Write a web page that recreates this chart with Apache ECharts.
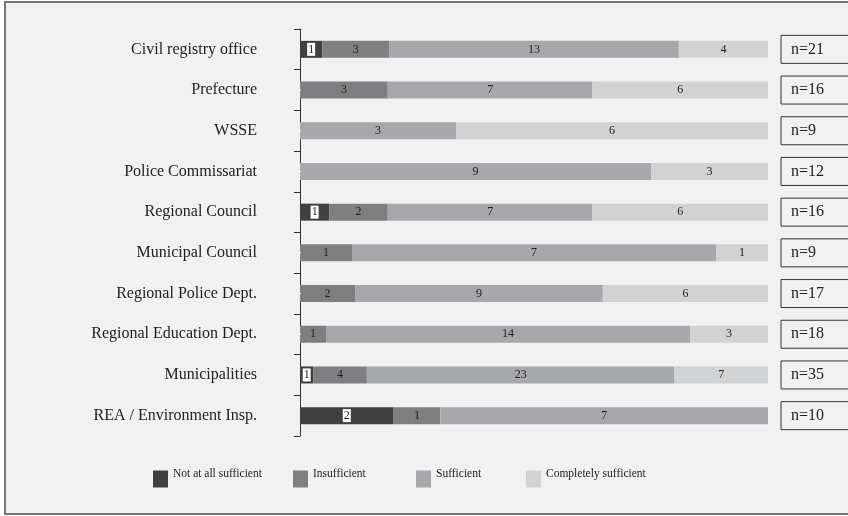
<!DOCTYPE html>
<html>
<head>
<meta charset="utf-8">
<script src="https://cdn.jsdelivr.net/npm/echarts@6/dist/echarts.min.js"></script>
<style>
html,body{margin:0;padding:0;background:#fff;}
#c{width:848px;height:516px;}
</style>
</head>
<body>
<div id="c"></div>
<script>
var categories = ['Civil registry office','Prefecture','WSSE','Police Commissariat','Regional Council','Municipal Council','Regional Police Dept.','Regional Education Dept.','Municipalities','REA / Environment Insp.'];
var seriesNames = ['Not at all sufficient','Insufficient','Sufficient','Completely sufficient'];
var notAtAll     = [1,0,0,0,1,0,0,0,1,2];
var insufficient = [3,3,0,0,2,1,2,1,4,1];
var sufficient   = [13,7,3,9,7,7,9,14,23,7];
var completely   = [4,6,6,3,6,1,6,3,7,0];
var nValues      = [21,16,9,12,16,9,17,18,35,10];

var counts = [notAtAll, insufficient, sufficient, completely];
var colors = ['#404040','#7f7f82','#a7a8ab','#d1d2d3'];
var FONT = 'Liberation Serif';

var chart = echarts.init(document.getElementById('c'));
var series = counts.map(function(arr, si){
  return {
    name: seriesNames[si],
    type: 'bar',
    stack: 'all',
    barWidth: 17,
    itemStyle: {color: colors[si]},
    label: {
      show: true,
      position: 'inside',
      fontFamily: FONT,
      fontSize: 12,
      color: '#222',
      backgroundColor: si === 0 ? '#fff' : 'transparent',
      padding: si === 0 ? [1,1,0,1] : 0,
      formatter: function(p){ var v = arr[p.dataIndex]; return v > 0 ? String(v) : ''; }
    },
    emphasis: {disabled: true},
    data: arr.map(function(v, i){ return v / nValues[i] * 100; })
  };
});

var legendLefts = [148, 288, 411, 521];
var legends = seriesNames.map(function(n, i){
  return {
    data: [n],
    left: legendLefts[i],
    top: 463,
    itemWidth: 15,
    itemHeight: 17,
    itemGap: 4,
    icon: 'rect',
    formatter: '{t|{name}}',
    textStyle: {
      fontFamily: FONT, fontSize: 11.5, color: '#222',
      rich: {t: {fontFamily: FONT, fontSize: 11.5, color: '#222', padding: [0,0,10,0]}}
    },
    selectedMode: false
  };
});

chart.setOption({
  animation: false,
  backgroundColor: 'transparent',
  graphic: [{
    type: 'rect', z: -10,
    shape: {x: 5, y: 2, width: 850, height: 512},
    style: {fill: '#f1f1f1', stroke: '#767676', lineWidth: 2}
  }],
  grid: {left: 300, right: 80, top: 29, bottom: 80, containLabel: false, outerBoundsMode: 'none'},
  legend: legends,
  xAxis: {type: 'value', min: 0, max: 100, show: false},
  yAxis: [{
    type: 'category',
    inverse: true,
    data: categories,
    axisLine: {show: true, lineStyle: {color: '#333', width: 1}},
    axisTick: {show: true, length: 6, lineStyle: {color: '#333'}},
    axisLabel: {fontFamily: FONT, fontSize: 16, color: '#222', margin: 43}
  },{
    type: 'category',
    inverse: true,
    position: 'right',
    data: nValues.map(function(n){ return 'n=' + n; }),
    axisLine: {show: false},
    axisTick: {show: false},
    axisLabel: {
      fontFamily: FONT, fontSize: 16, color: '#222', margin: 13,
      align: 'left',
      width: 70,
      overflow: 'none',
      borderColor: '#333', borderWidth: 1,
      padding: [7, 0, 5, 10]
    }
  }],
  series: series
});
</script>
</body>
</html>
